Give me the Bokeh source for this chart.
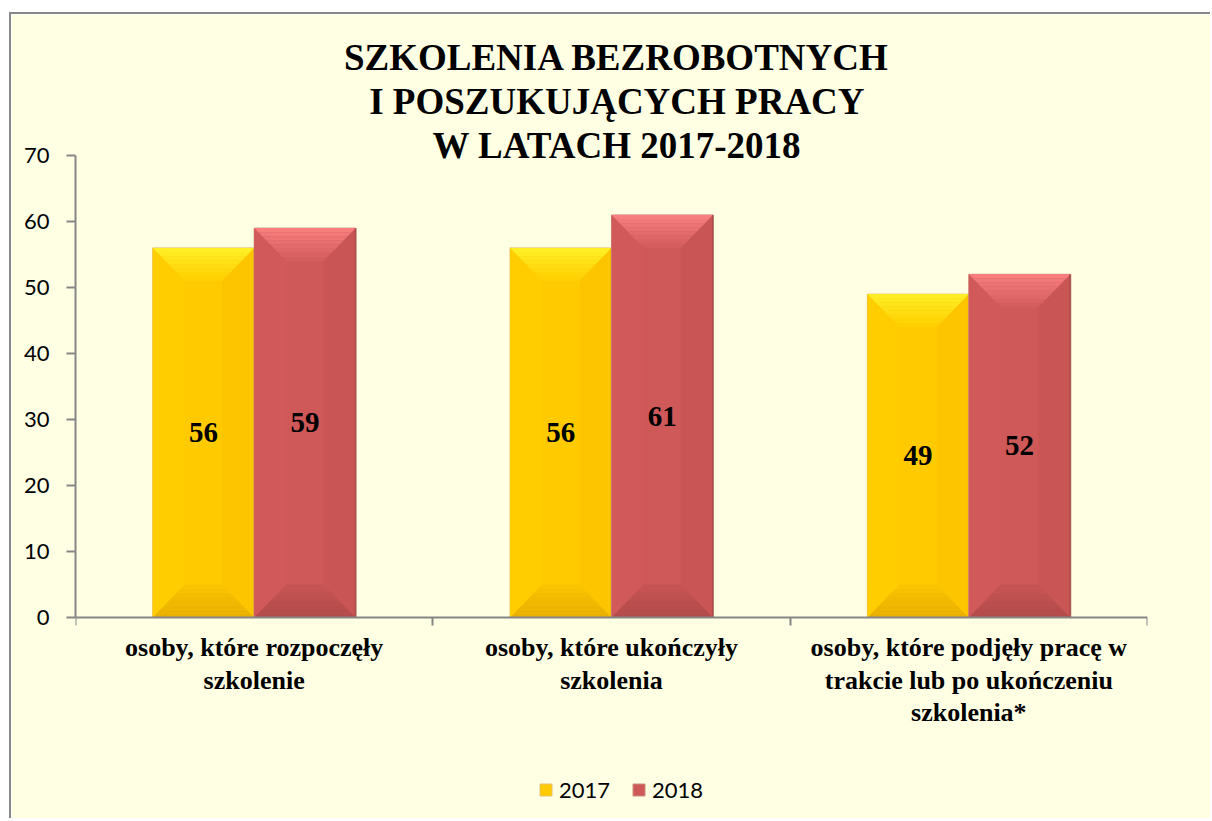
from bokeh.plotting import figure
from bokeh.models import Range1d, FixedTicker, Label, Legend, LegendItem
from bokeh.core.properties import value
from bokeh.embed import file_html
from bokeh.resources import INLINE

# ---------------- data ----------------
categories = [
    "osoby, które rozpoczęły\nszkolenie",
    "osoby, które ukończyły\nszkolenia",
    "osoby, które podjęły pracę w\ntrakcie lub po ukończeniu\nszkolenia*",
]
years = ["2017", "2018"]
values_2017 = [56, 56, 49]
values_2018 = [59, 61, 52]
y_ticks = [0, 10, 20, 30, 40, 50, 60, 70]
title_text = "SZKOLENIA BEZROBOTNYCH\nI POSZUKUJĄCYCH PRACY\nW LATACH 2017-2018"

# ---------------- style ----------------
BG = "#FFFFE4"
AXIS = "#868686"
SERIF = "Liberation Serif"
SANS = "Lato"
colors = {
    "2017": dict(face="#FFCB00", left="#FFCD00", right="#FDC500",
                 top_outer="#FFF028", top_inner="#FFCF00",
                 bot_outer="#E8AE00", bot_inner="#FAC400",
                 line="#E6C070", rim="#E0A800"),
    "2018": dict(face="#CF5858", left="#D15959", right="#CA5555",
                 top_outer="#FA8080", top_inner="#D25B5B",
                 bot_outer="#B04A4A", bot_inner="#C85454",
                 line="#C89080", rim="#9A4040"),
}
BAR_W = 0.284
BEVEL_X = 0.09
BEVEL_Y = 5.0
N_BANDS = 8
Y_VIEW_TOP = 90        # room inside the frame for the title
Y_VIEW_BOTTOM = -29.24  # room inside the frame for category labels and legend
CAT_LABEL_Y = -2.4
TITLE_Y = 88.0


def mix(c1, c2, f):
    a = [int(c1[i:i + 2], 16) for i in (1, 3, 5)]
    b = [int(c2[i:i + 2], 16) for i in (1, 3, 5)]
    return "#%02x%02x%02x" % tuple(round(a[k] + (b[k] - a[k]) * f) for k in range(3))


p = figure(width=1201, height=806, x_range=Range1d(0, 3), y_range=Range1d(Y_VIEW_BOTTOM, Y_VIEW_TOP),
           output_backend="svg", toolbar_location=None,
           min_border_left=64, min_border_right=65, min_border_top=9, min_border_bottom=10)
p.styles = {"border-top": "2px solid #888888", "border-left": "2px solid #888888",
            "margin-top": "12px", "margin-left": "9px"}
p.background_fill_color = BG
p.border_fill_color = BG
p.outline_line_color = None
p.grid.visible = False

renderers = {}
for yi, (yr, vals) in enumerate(zip(years, [values_2017, values_2018])):
    c = colors[yr]
    offset = (yi - 0.5) * BAR_W
    xc = [i + 0.5 + offset for i in range(len(vals))]
    r = p.vbar(x=xc, top=vals, width=BAR_W, bottom=0, fill_color=c["face"],
               line_color=c["line"], line_width=1)
    renderers[yr] = r
    x0s = [x - BAR_W / 2 for x in xc]
    x1s = [x + BAR_W / 2 for x in xc]
    # side faces (subtle horizontal shading)
    lx, ly, rx, ry = [], [], [], []
    for x0, x1, t in zip(x0s, x1s, vals):
        lx.append([x0, x0, x0 + BEVEL_X, x0 + BEVEL_X]); ly.append([0, t, t - BEVEL_Y, BEVEL_Y])
        rx.append([x1, x1, x1 - BEVEL_X, x1 - BEVEL_X]); ry.append([0, t, t - BEVEL_Y, BEVEL_Y])
    p.patches(lx, ly, fill_color=c["left"], line_color=None)
    p.patches(rx, ry, fill_color=c["right"], line_color=None)
    # top and bottom bevels as graded bands
    for k in range(N_BANDS):
        f0, f1 = k / N_BANDS, (k + 1) / N_BANDS
        tx, ty, bx, by = [], [], [], []
        for x0, x1, t in zip(x0s, x1s, vals):
            tx.append([x0 + f0 * BEVEL_X, x1 - f0 * BEVEL_X, x1 - f1 * BEVEL_X, x0 + f1 * BEVEL_X])
            ty.append([t - f0 * BEVEL_Y, t - f0 * BEVEL_Y, t - f1 * BEVEL_Y, t - f1 * BEVEL_Y])
            bx.append([x0 + f0 * BEVEL_X, x1 - f0 * BEVEL_X, x1 - f1 * BEVEL_X, x0 + f1 * BEVEL_X])
            by.append([f0 * BEVEL_Y, f0 * BEVEL_Y, f1 * BEVEL_Y, f1 * BEVEL_Y])
        fm = (k + 0.5) / N_BANDS
        p.patches(tx, ty, fill_color=mix(c["top_outer"], c["top_inner"], fm), line_color=None)
        p.patches(bx, by, fill_color=mix(c["bot_outer"], c["bot_inner"], fm), line_color=None)
    # darker rim on the right edge
    p.segment(x0=x1s, x1=x1s, y0=[0] * len(vals), y1=vals, line_color=c["rim"], line_width=2, line_alpha=0.6)
    p.text(x=xc, y=[v / 2 for v in vals], text=[str(v) for v in vals],
           text_font=value(SERIF), text_font_style="bold", text_font_size="29px",
           text_align="center", text_baseline="middle", text_color="black")

# y axis
ya = p.yaxis[0]
ya.ticker = FixedTicker(ticks=y_ticks, minor_ticks=[])
ya.bounds = (y_ticks[0], y_ticks[-1])
ya.axis_line_color = AXIS
ya.axis_line_width = 2
ya.major_tick_line_color = AXIS
ya.major_tick_line_width = 2
ya.major_tick_in = 0
ya.major_tick_out = 9
ya.minor_tick_line_color = None
ya.major_label_text_font = SANS
ya.major_label_text_font_size = "22px"
ya.major_label_text_color = "black"
ya.major_label_standoff = 17

# x axis (drawn at y = 0, category labels as text below it)
cat_x = [i + 0.5 for i in range(len(categories))]
xa = p.xaxis[0]
xa.fixed_location = 0
xa.ticker = FixedTicker(ticks=[], minor_ticks=list(range(len(categories) + 1)))
xa.major_label_standoff = 0
xa.axis_line_color = AXIS
xa.axis_line_width = 2
xa.major_tick_line_color = None
xa.major_tick_in = 0
xa.major_tick_out = 0
xa.minor_tick_line_color = AXIS
xa.minor_tick_line_width = 2
xa.minor_tick_in = 0
xa.minor_tick_out = 8

p.text(x=cat_x, y=[CAT_LABEL_Y] * len(categories), text=categories,
       text_font=value(SERIF), text_font_style="bold", text_font_size="26px",
       text_align="center", text_baseline="top", text_line_height=1.12, text_color="black")

# title
p.add_layout(Label(x=1.515, y=TITLE_Y, text=title_text, text_font=SERIF, text_font_style="bold",
                   text_font_size="37px", text_align="center", text_baseline="top",
                   text_line_height=1.08, text_color="black"))

legend = Legend(items=[LegendItem(label=yr, renderers=[renderers[yr]]) for yr in years],
                orientation="horizontal", location=(463, 7),
                background_fill_alpha=0, border_line_color=None,
                label_text_font=SANS, label_text_font_size="22px", label_text_color="black",
                glyph_width=15, glyph_height=15, label_height=15, spacing=21, padding=0, margin=0,
                label_standoff=6)
p.add_layout(legend)

open("out.html", "w").write(file_html(p, INLINE))
